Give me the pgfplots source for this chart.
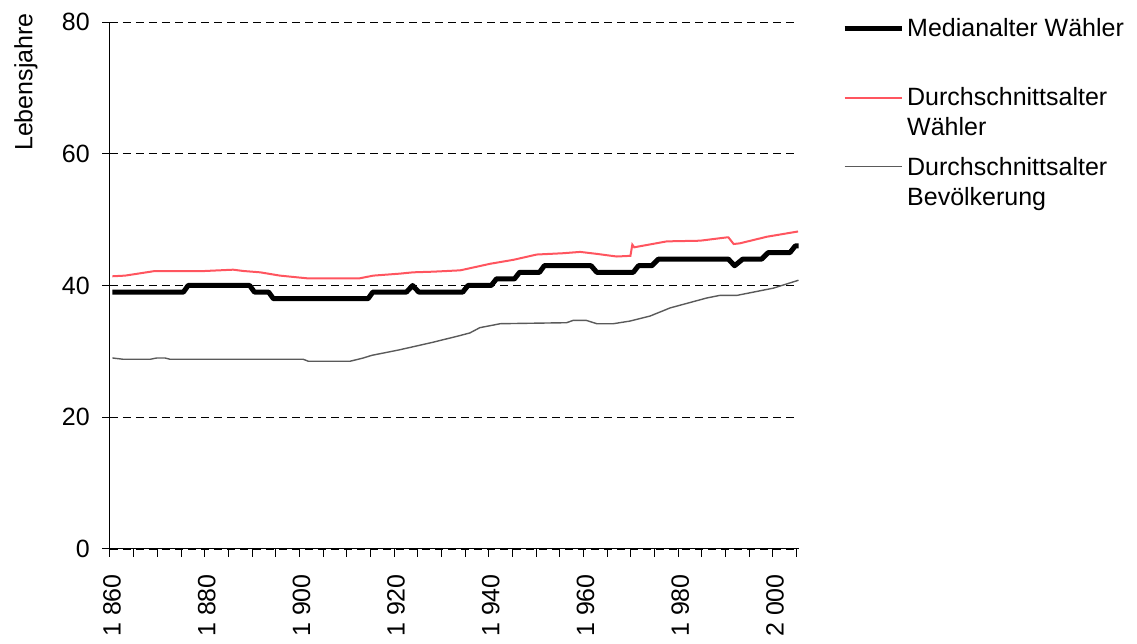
\documentclass[border=0pt]{standalone}
\usepackage{fontspec}
\setmainfont{Liberation Sans}
\usepackage{pgfplots}
\pgfplotsset{compat=1.18}
\definecolor{wred}{RGB}{255,85,95}
\definecolor{bgray}{RGB}{90,90,90}
\begin{document}
\begin{tikzpicture}[font=\fontsize{25}{30}\selectfont]
\path[use as bounding box] (-110pt,-95pt) rectangle (1027pt,549pt);
\begin{axis}[
  at={(0pt,0pt)}, anchor=south west,
  scale only axis, width=689pt, height=527pt,
  xmin=1860, xmax=2005.5, ymin=0, ymax=80,
  axis x line*=bottom, axis y line*=left,
  axis line style={-, line width=1pt, black},
  xtick={1860,1865,...,2005},
  xticklabels={{1 860},{},{},{},{1 880},{},{},{},{1 900},{},{},{},{1 920},{},{},{},{1 940},{},{},{},{1 960},{},{},{},{1 980},{},{},{},{2 000},{}},
  ytick={0,20,...,80},
  tick align=outside, major tick length=8pt,
  tick style={black, line width=1pt},
  xticklabel style={yshift=-17pt, xshift=2pt, rotate=90, anchor=east, inner sep=0pt},
  yticklabel style={inner sep=0pt, xshift=-12pt},
  /pgf/number format/assume math mode=true,
  ymajorgrids, grid style={black, line width=0.8pt, dash pattern=on 8pt off 5pt},
  ylabel={Lebensjahre},
  ylabel style={at={(axis description cs:-0.122,1.017)}, anchor=east, inner sep=0pt},
  legend style={at={(axis description cs:1.0624,1.0105)}, anchor=north west, draw=none, fill=none,
    cells={anchor=west, align=left}, row sep=15.5pt, column sep=1pt, inner sep=0pt,
    font=\fontsize{25}{30}\selectfont},
  legend image code/.code={\draw[#1] (0pt,15pt) -- (57pt,15pt);},
]
\addplot[black, line width=5pt, line join=round] coordinates {
(1860.5,39) (1875.5,39) (1876.5,40) (1889.5,40) (1890.5,39) (1893.5,39) (1894.5,38) (1914.5,38) (1915.5,39) (1922.6,39) (1923.9,40) (1925.2,39) (1934.5,39) (1935.6,40) (1940.5,40) (1941.6,41) (1945.4,41) (1946.5,42) (1950.7,42) (1951.7,43) (1961.6,43) (1962.8,42) (1970.5,42) (1971.6,43) (1974.4,43) (1975.8,44) (1990.6,44) (1991.9,43) (1993.6,44) (1997.6,44) (1999,45) (2003.6,45) (2004.7,46) (2005.4,46)
};
\addlegendentry{Medianalter Wähler\\\strut}
\addplot[color=wred, line width=2pt] coordinates {
(1860.5,41.4) (1863.2,41.5) (1867.7,42.0) (1869.5,42.2) (1880,42.2) (1886,42.4) (1888.2,42.2) (1891.7,42.0) (1895.9,41.5) (1901.5,41.1) (1912.8,41.1) (1915.6,41.5) (1921.2,41.8) (1924,42.0) (1928.3,42.1) (1933.9,42.3) (1934.6,42.4) (1940.3,43.3) (1945.2,43.9) (1950.1,44.7) (1955.7,44.9) (1959.3,45.1) (1962.8,44.8) (1967,44.4) (1969.9,44.5) (1970.3,46.2) (1970.7,45.8) (1977.6,46.7) (1984.6,46.8) (1990.2,47.3) (1990.6,47.3) (1991.7,46.3) (1993,46.4) (1998.7,47.4) (2005.3,48.2)
};
\addlegendentry{Durchschnittsalter\\Wähler}
\addplot[color=bgray, line width=1.4pt] coordinates {
(1860.5,29.0) (1862.8,28.8) (1868.5,28.8) (1869.9,29.0) (1871.6,29.0) (1872.7,28.8) (1900.8,28.8) (1901.9,28.5) (1910.7,28.5) (1913.5,29.0) (1915.3,29.4) (1920.9,30.2) (1924,30.7) (1928.3,31.4) (1933.9,32.4) (1936,32.8) (1938.1,33.6) (1941,34.0) (1942.4,34.2) (1956.4,34.35) (1957.8,34.7) (1960.6,34.7) (1962.8,34.2) (1966.3,34.2) (1969.8,34.6) (1974,35.35) (1978.3,36.6) (1986,38.1) (1988.8,38.5) (1992.4,38.5) (1996.6,39.1) (2000.1,39.6) (2005.4,40.8)
};
\addlegendentry{Durchschnittsalter\\Bevölkerung}
\end{axis}
\end{tikzpicture}
\end{document}
